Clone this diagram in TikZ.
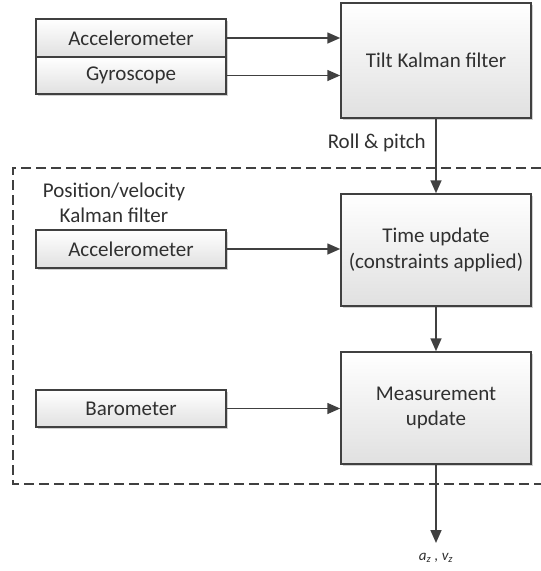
\documentclass[tikz,border=0pt]{standalone}
\usepackage{fontspec}
\setmainfont{Carlito}
\usetikzlibrary{arrows.meta,shadows}
\definecolor{lc}{HTML}{404040}
\definecolor{tc}{HTML}{303030}
\tikzset{
  blk/.style={draw=lc, line width=1.5pt, top color=white, bottom color=black!12,
    drop shadow={shadow xshift=2pt, shadow yshift=-2pt, fill=black, opacity=0.18},
    text=tc, font=\fontsize{21}{25.5}\selectfont, align=center, inner sep=0pt,
    minimum width=190pt},
  conn/.style={draw=lc, line width=1.6pt, -{Triangle[length=13pt,width=11pt]}},
  lbl/.style={text=tc, font=\fontsize{21}{25.5}\selectfont, align=center, inner sep=0pt}
}
\begin{document}
\begin{tikzpicture}[x=1pt,y=-1pt]
\useasboundingbox (0,0) rectangle (541,571);
\node[blk, minimum height=38pt] (acc1) at (131,38) {Accelerometer};
\node[blk, minimum height=37pt] (gyro) at (131,75.5) {Gyroscope};
\node[blk, minimum height=115pt] (tilt) at (436,60.5) {Tilt Kalman filter};
\node[lbl, anchor=east] (rp) at (426,143) {Roll \& pitch};
\draw[lc, line width=1.4pt, dash pattern=on 10pt off 5pt] (541,168) -- (13,168) -- (13,484) -- (541,484);
\node[lbl] (pv) at (114,203) {Position/velocity\\Kalman filter};
\node[blk, minimum height=38pt] (acc2) at (131,249) {Accelerometer};
\node[blk, minimum height=112pt] (time) at (436,250) {Time update\\(constraints applied)};
\node[blk, minimum height=112pt] (meas) at (436,408) {Measurement\\update};
\node[blk, minimum height=37pt] (baro) at (131,408.5) {Barometer};
\coordinate (out) at (436,543);
\node[text=tc, font=\fontsize{15}{18}\selectfont\itshape, inner sep=0pt] (ov) at (436,558) {a\textsubscript{z} , v\textsubscript{z}};
\draw[conn] (acc1.east) -- (tilt.west |- acc1.east);
\draw[conn] (gyro.east) -- (tilt.west |- gyro.east);
\draw[conn] (tilt.south) -- (time.north);
\draw[conn] (acc2.east) -- (time.west |- acc2.east);
\draw[conn] (time.south) -- (meas.north);
\draw[conn] (baro.east) -- (meas.west |- baro.east);
\draw[conn] (meas.south) -- (out);
\end{tikzpicture}
\end{document}
